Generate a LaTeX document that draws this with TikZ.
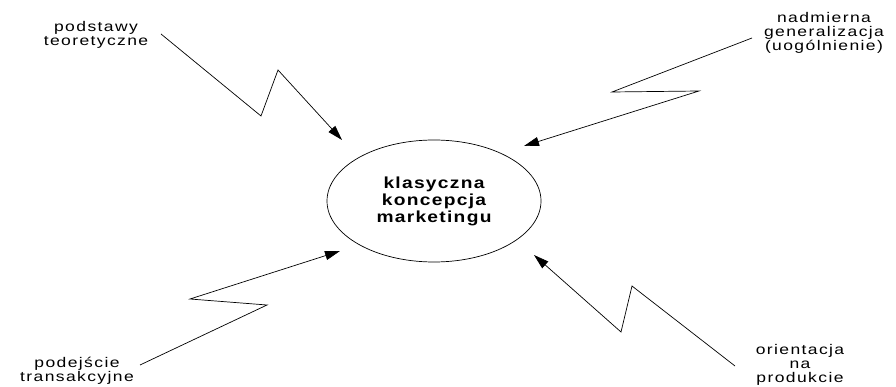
\documentclass[tikz,border=0pt]{standalone}
\usepackage{fontspec}
\setmainfont{Liberation Sans}[FakeStretch=1.25, LetterSpace=10]
\newfontfamily\corefont{Liberation Sans}[FakeStretch=1.2, LetterSpace=8]
\usetikzlibrary{arrows.meta,shapes.geometric}
\begin{document}
\begin{tikzpicture}[x=1pt,y=-1pt,
  lbl/.style={align=center,inner sep=0pt,font=\fontsize{14}{14}\selectfont},
  core/.style={draw,line width=0.7pt,ellipse,minimum width=214pt,minimum height=122pt,inner sep=0pt,align=center,font=\corefont\fontsize{16}{17}\selectfont\bfseries},
  bolt/.style={draw,line width=0.7pt,-{Triangle[length=15pt,width=9pt]}}]
\useasboundingbox (0,0) rectangle (896,387);
\clip (0,0) rectangle (896,387);
\node[core] (core) at (434,201) {klasyczna\\koncepcja\\marketingu};
\node[lbl] (t1) at (96,35) {podstawy\\teoretyczne};
\node[lbl] (t2) at (824,33) {nadmierna\\generalizacja\\(uogólnienie)};
\node[lbl] (t3) at (77,371) {podejście\\transakcyjne};
\node[lbl] (t4) at (800,365) {orientacja\\na\\produkcie};
% bolt 1
\coordinate (a0) at (161,34);
\coordinate (a1) at (261,116);
\coordinate (a2) at (278,70);
\coordinate (a3) at (342,140);
\draw[bolt] (a0) -- (a1) -- (a2) -- (a3);
% bolt 2
\coordinate (b0) at (752,38);
\coordinate (b1) at (612,92);
\coordinate (b2) at (699,91);
\coordinate (b3) at (524,146);
\draw[bolt] (b0) -- (b1) -- (b2) -- (b3);
% bolt 3
\coordinate (c0) at (140,365);
\coordinate (c1) at (267,305);
\coordinate (c2) at (190,299);
\coordinate (c3) at (340,251);
\draw[bolt] (c0) -- (c1) -- (c2) -- (c3);
% bolt 4
\coordinate (d0) at (735,366);
\coordinate (d1) at (632,286);
\coordinate (d2) at (621,332);
\coordinate (d3) at (534,255);
\draw[bolt] (d0) -- (d1) -- (d2) -- (d3);
\end{tikzpicture}
\end{document}
